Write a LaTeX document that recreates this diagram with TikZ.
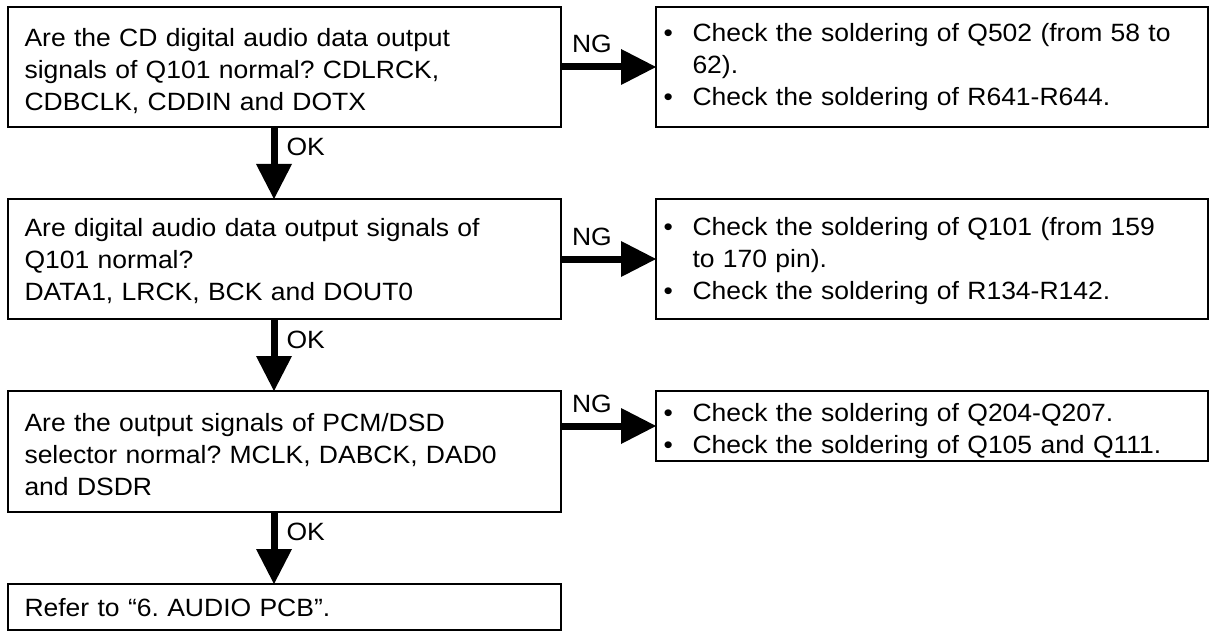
\documentclass[tikz,border=0pt]{standalone}
\usepackage{fontspec}
\setmainfont{Liberation Sans}[FakeStretch=1.06]
\usetikzlibrary{arrows.meta}
\frenchspacing
\newcommand\rbul{\makebox[29pt][l]{•}}
\newcommand\rind{\hspace*{29pt}}
\begin{document}
\begin{tikzpicture}[x=1pt,y=-1pt,
  every node/.style={font=\frenchspacing\fontsize{25pt}{32pt}\selectfont, outer sep=0pt},
  lbox/.style={draw, line width=1.5pt, anchor=north west, align=left, text width=520pt, inner xsep=16.5pt, inner ysep=0pt},
  rbox/.style={draw, line width=1.5pt, anchor=north west, align=left, text width=537pt, inner xsep=7.5pt, inner ysep=0pt},
  lbl/.style={anchor=base west, inner sep=0pt},
  bigarrow/.style={line width=7pt, -{Triangle[width=36pt,length=35pt,line width=0pt]}},
]
\useasboundingbox (0,0) rectangle (1209,631);

\node[lbox, text height=39.5pt, text depth=80.5pt] (b1) at (8,7)
  {Are the CD digital audio data output\\signals of Q101 normal? CDLRCK,\\CDBCLK, CDDIN and DOTX};
\node[lbox, text height=37.5pt, text depth=82.5pt] (b2) at (8,199)
  {Are digital audio data output signals of\\Q101 normal?\\DATA1, LRCK, BCK and DOUT0};
\node[lbox, text height=40pt, text depth=81pt] (b3) at (8,391)
  {Are the output signals of PCM/DSD\\selector normal? MCLK, DABCK, DAD0\\and DSDR};
\node[lbox, text height=32.7pt, text depth=13.3pt] (b4) at (8,584)
  {Refer to “6. AUDIO PCB”.};

\node[rbox, text height=35pt, text depth=85pt] (r1) at (656,7)
  {\rbul Check the soldering of Q502 (from 58 to\\\rind 62).\\\rbul Check the soldering of R641-R644.};
\node[rbox, text height=36pt, text depth=84pt] (r2) at (656,199)
  {\rbul Check the soldering of Q101 (from 159\\\rind to 170 pin).\\\rbul Check the soldering of R134-R142.};
\node[rbox, text height=30.7pt, text depth=39.3pt] (r3) at (656,391)
  {\rbul Check the soldering of Q204-Q207.\\\rbul Check the soldering of Q105 and Q111.};

\coordinate (ax) at (274,0);
\draw[bigarrow] (b1.south -| ax) -- (b2.north -| ax);
\draw[bigarrow] (b2.south -| ax) -- (b3.north -| ax);
\draw[bigarrow] (b3.south -| ax) -- (b4.north -| ax);

\draw[bigarrow] (b1.east) -- (r1.west);
\draw[bigarrow] (b2.east) -- (r2.west);
\draw[bigarrow] (r3.west -| b3.east) -- (r3.west);

\node[lbl] (ok1) at (286.5,155.5) {OK};
\node[lbl] (ok2) at (286.5,348) {OK};
\node[lbl] (ok3) at (286.5,540.5) {OK};
\node[lbl] (ng1) at (572,53) {NG};
\node[lbl] (ng2) at (572,245) {NG};
\node[lbl] (ng3) at (572,412) {NG};
\end{tikzpicture}
\end{document}
